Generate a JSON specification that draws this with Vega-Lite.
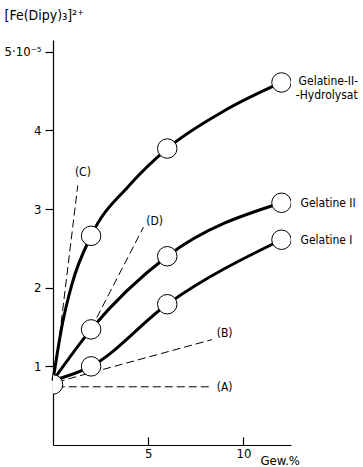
{
  "$schema": "https://vega.github.io/schema/vega-lite/v6.json",
  "width": 238,
  "height": 405,
  "autosize": "none",
  "padding": {"left": 53, "top": 40, "right": 72, "bottom": 22},
  "background": "white",
  "config": {
    "view": {"stroke": null},
    "font": "DejaVu Sans Condensed",
    "axis": {"domainColor": "#000", "tickColor": "#000", "labelColor": "#000", "titleColor": "#000", "grid": false, "labelFontSize": 13, "titleFontSize": 13, "titleFontWeight": "normal", "domainWidth": 1.2, "tickWidth": 1.2}
  },
  "datasets": {
    "curves": [
      {"series": "Hydrolysat", "x": 0, "y": 0.82},
      {"series": "Hydrolysat", "x": 0.5, "y": 1.55},
      {"series": "Hydrolysat", "x": 1, "y": 2.05},
      {"series": "Hydrolysat", "x": 2, "y": 2.66},
      {"series": "Hydrolysat", "x": 4, "y": 3.3},
      {"series": "Hydrolysat", "x": 6, "y": 3.77},
      {"series": "Hydrolysat", "x": 9, "y": 4.25},
      {"series": "Hydrolysat", "x": 12, "y": 4.61},
      {"series": "Gelatine II", "x": 0, "y": 0.82},
      {"series": "Gelatine II", "x": 2, "y": 1.47},
      {"series": "Gelatine II", "x": 6, "y": 2.4},
      {"series": "Gelatine II", "x": 12, "y": 3.08},
      {"series": "Gelatine I", "x": 0, "y": 0.82},
      {"series": "Gelatine I", "x": 2, "y": 1.0},
      {"series": "Gelatine I", "x": 6, "y": 1.79},
      {"series": "Gelatine I", "x": 12, "y": 2.61}
    ],
    "points": [
      {"x": 0, "y": 0.77},
      {"x": 2, "y": 2.66},
      {"x": 6, "y": 3.77},
      {"x": 12, "y": 4.61},
      {"x": 2, "y": 1.47},
      {"x": 6, "y": 2.4},
      {"x": 12, "y": 3.08},
      {"x": 2, "y": 1.0},
      {"x": 6, "y": 1.79},
      {"x": 12, "y": 2.61}
    ],
    "dashes": [
      {"line": "A", "x": 0.2, "y": 0.74},
      {"line": "A", "x": 8.2, "y": 0.74},
      {"line": "B", "x": 0.2, "y": 0.8},
      {"line": "B", "x": 8.35, "y": 1.34},
      {"line": "C", "x": 0.2, "y": 1.1},
      {"line": "C", "x": 1.3, "y": 3.3},
      {"line": "D", "x": 2.3, "y": 1.62},
      {"line": "D", "x": 4.75, "y": 2.77}
    ],
    "labels": [
      {"text": "Gelatine-II-", "x": 12.9, "y": 4.63},
      {"text": "-Hydrolysat", "x": 12.75, "y": 4.45},
      {"text": "Gelatine II", "x": 13.0, "y": 3.08},
      {"text": "Gelatine I", "x": 13.0, "y": 2.61},
      {"text": "(A)", "x": 8.6, "y": 0.74},
      {"text": "(B)", "x": 8.6, "y": 1.42},
      {"text": "(C)", "x": 1.15, "y": 3.47},
      {"text": "(D)", "x": 4.9, "y": 2.85}
    ]
  },
  "layer": [
    {
      "data": {"name": "dashes"},
      "mark": {"type": "line", "color": "#000", "strokeWidth": 1, "strokeDash": [8, 4]},
      "encoding": {
        "x": {"field": "x", "type": "quantitative", "scale": {"domain": [0, 12.5], "nice": false},
          "axis": {"values": [5, 10], "tickSize": -8, "labelPadding": 10, "title": "Gew.%", "titleAnchor": "start", "titleAlign": "left", "titleX": 207, "titleY": 15, "titleBaseline": "middle"}},
        "y": {"field": "y", "type": "quantitative", "scale": {"domain": [0, 5.15], "nice": false},
          "axis": {"values": [1, 2, 3, 4, 5], "tickSize": 8, "labelPadding": 4, "labelExpr": "datum.value == 5 ? '5·10⁻⁵' : format(datum.value, 'd')", "title": "[Fe(Dipy)₃]²⁺", "titleFontSize": 14, "titleAngle": 0, "titleAlign": "left", "titleBaseline": "middle", "titleX": -49, "titleY": -25}},
        "detail": {"field": "line"}
      }
    },
    {
      "data": {"name": "curves"},
      "mark": {"type": "line", "color": "#000", "strokeWidth": 3, "interpolate": "monotone"},
      "encoding": {
        "x": {"field": "x", "type": "quantitative"},
        "y": {"field": "y", "type": "quantitative"},
        "detail": {"field": "series"}
      }
    },
    {
      "data": {"name": "points"},
      "mark": {"type": "point", "shape": "circle", "filled": false, "fill": "white", "fillOpacity": 1, "stroke": "#000", "strokeWidth": 1, "size": 380, "opacity": 1, "clip": true},
      "encoding": {
        "x": {"field": "x", "type": "quantitative"},
        "y": {"field": "y", "type": "quantitative"}
      }
    },
    {
      "data": {"name": "labels"},
      "mark": {"type": "text", "align": "left", "baseline": "middle", "fontSize": 12, "color": "#000"},
      "encoding": {
        "x": {"field": "x", "type": "quantitative"},
        "y": {"field": "y", "type": "quantitative"},
        "text": {"field": "text"}
      }
    }
  ]
}
